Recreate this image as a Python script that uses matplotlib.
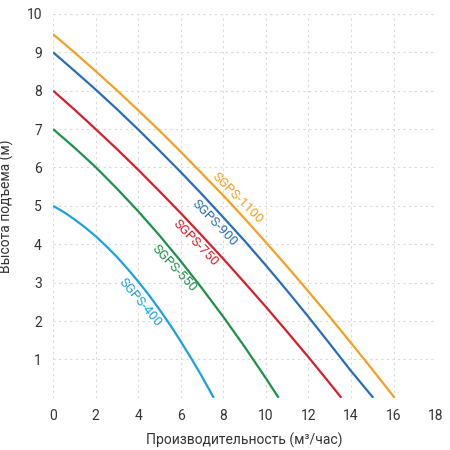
import matplotlib

matplotlib.use("Agg")
import matplotlib.pyplot as plt

# pump curves: flow (m3/h) vs head (m)
q_400 = [0, 0.5, 1, 1.5, 2, 2.5, 3, 3.5, 4, 4.5, 5, 5.5, 6, 6.5, 7, 7.55]
h_400 = [5.0, 4.84, 4.65, 4.44, 4.21, 3.95, 3.67, 3.36, 3.03, 2.68, 2.3, 1.9, 1.47, 1.02, 0.55, 0.0]

q_550 = [0, 1, 2, 3, 4, 5, 6, 7, 8, 9, 10, 10.6]
h_550 = [7.0, 6.52, 6.01, 5.45, 4.86, 4.23, 3.56, 2.85, 2.11, 1.33, 0.51, 0.0]

q_750 = [0, 1, 2, 3, 4, 5, 6, 7, 8, 9, 10, 11, 12, 13, 13.55]
h_750 = [8.0, 7.51, 7.0, 6.48, 5.94, 5.38, 4.81, 4.22, 3.62, 3.0, 2.37, 1.72, 1.06, 0.38, 0.0]

q_900 = [0, 1, 2, 3, 4, 5, 6, 7, 8, 9, 10, 11, 12, 13, 14, 15.05]
h_900 = [9.0, 8.52, 8.03, 7.52, 6.99, 6.44, 5.88, 5.3, 4.7, 4.09, 3.45, 2.79, 2.11, 1.41, 0.7, 0.0]

q_1100 = [0, 1, 2, 3, 4, 5, 6, 7, 8, 9, 10, 11, 12, 13, 14, 15, 16.05]
h_1100 = [9.47, 9.0, 8.51, 8.01, 7.49, 6.96, 6.41, 5.84, 5.27, 4.67, 4.05, 3.42, 2.77, 2.11, 1.43, 0.74, 0.0]

names = ["SGPS-400", "SGPS-550", "SGPS-750", "SGPS-900", "SGPS-1100"]
colors = ["#1ea0dc", "#1f8f4a", "#d61f2c", "#2b6db3", "#f2a122"]
# label anchor (q, h) and rotation
label_pos = [(4.1, 2.49), (5.71, 3.38), (6.68, 4.03), (7.61, 4.57), (8.67, 5.2)]
label_rot = [-50, -47, -46, -46, -45]

x_ticks = list(range(0, 19, 2))
y_ticks = list(range(0, 11))

plt.rcParams["font.family"] = ["Roboto", "DejaVu Sans"]

fig = plt.figure(figsize=(4.5, 4.5), dpi=100)
ax = fig.add_axes([0.118, 0.116, 0.851, 0.853])

curves = [(q_400, h_400), (q_550, h_550), (q_750, h_750), (q_900, h_900), (q_1100, h_1100)]
for (q, h), c in zip(curves, colors):
    ax.plot(q, h, color=c, linewidth=1.6, solid_capstyle="butt", solid_joinstyle="round")

for name, c, (lq, lh), rot in zip(names, colors, label_pos, label_rot):
    ax.text(lq, lh, name, color=c, rotation=rot, ha="center", va="center",
            fontsize=9.5, rotation_mode="anchor")

ax.set_xlim(0, 18)
ax.set_ylim(0, 10)
ax.set_xticks(x_ticks)
ax.set_yticks(y_ticks)
ax.set_yticklabels(["" if v == 0 else str(v) for v in y_ticks])
ax.tick_params(length=0, labelsize=10, colors="#333333", pad=8)
ax.grid(True, color="#d9d9d9", linestyle=(0, (2, 3)), linewidth=0.8)
for s in ax.spines.values():
    s.set_visible(False)

ax.set_xlabel("Производительность (м³/час)", fontsize=10, color="#333333", labelpad=7)
ax.set_ylabel("Высота подъема (м)", fontsize=10, color="#333333", labelpad=9)

fig.savefig("out.png", dpi=100)
